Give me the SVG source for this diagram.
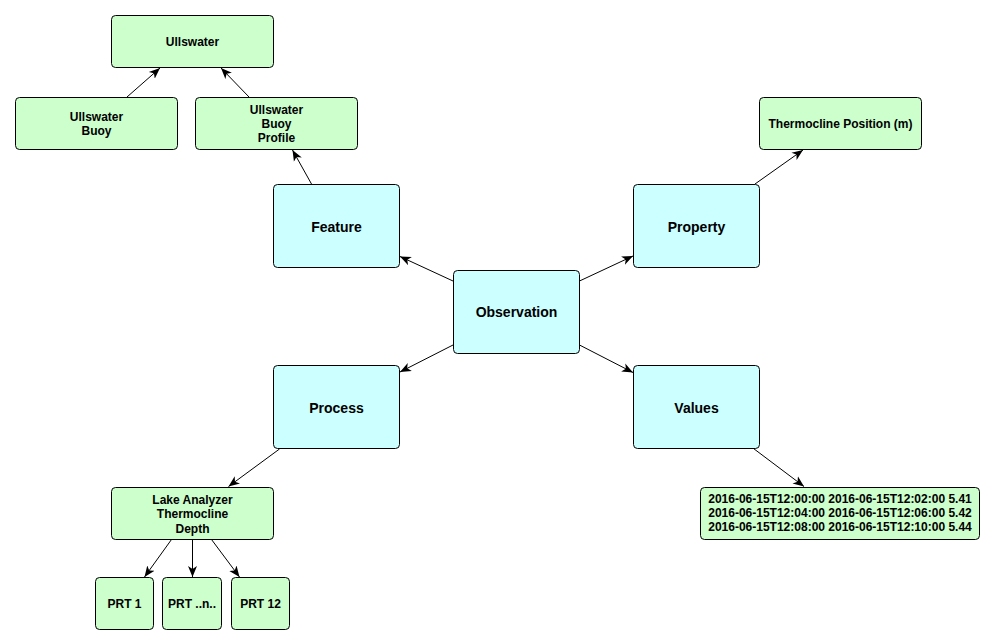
<svg xmlns="http://www.w3.org/2000/svg" width="995" height="644" viewBox="0 0 995 644">
<defs>
<marker id="arr" markerUnits="userSpaceOnUse" markerWidth="12" markerHeight="10" viewBox="0 0 12 10" refX="11" refY="5" orient="auto">
<path d="M0,0.5 L11,5 L0,9.5 L3,5 Z" fill="#000"/>
</marker>
<style>
.g{fill:#ccffcc;stroke:#000;stroke-width:1}
.c{fill:#ccffff;stroke:#000;stroke-width:1}
.t{font-family:"Liberation Sans",Arial,sans-serif;font-weight:bold;font-size:12px;fill:#000;text-anchor:middle}
.T{font-family:"Liberation Sans",Arial,sans-serif;font-weight:bold;font-size:14px;fill:#000;text-anchor:middle}
.e{fill:none;stroke:#000;stroke-width:1;marker-end:url(#arr)}
</style>
</defs>
<rect width="995" height="644" fill="#fff"/>
<g id="connectors">
<line class="e" x1="127" y1="97" x2="160" y2="68"/>
<line class="e" x1="249" y1="97" x2="221" y2="68"/>
<line class="e" x1="311.5" y1="184" x2="292.5" y2="150"/>
<line class="e" x1="453" y1="281" x2="400" y2="256.5"/>
<line class="e" x1="579.5" y1="281" x2="633" y2="256"/>
<line class="e" x1="755" y1="184" x2="803" y2="150"/>
<line class="e" x1="453" y1="345" x2="400" y2="372"/>
<line class="e" x1="579.5" y1="345" x2="633" y2="372.5"/>
<line class="e" x1="279.5" y1="449" x2="228.5" y2="486.5"/>
<line class="e" x1="753.5" y1="448.5" x2="804" y2="486.5"/>
<line class="e" x1="171.5" y1="539.5" x2="144.5" y2="577"/>
<line class="e" x1="192.5" y1="539.5" x2="192.5" y2="577"/>
<line class="e" x1="211.5" y1="539.5" x2="239.5" y2="577"/>
</g>
<g id="ullswater"><rect class="g" x="111.5" y="15.5" width="162" height="52" rx="4"/><text class="t" x="192.5" y="46">Ullswater</text></g>
<g id="ullswater-buoy"><rect class="g" x="15.5" y="97.5" width="162" height="52" rx="4"/><text class="t" x="96.5" y="120.5">Ullswater</text><text class="t" x="96.5" y="134.5">Buoy</text></g>
<g id="ullswater-buoy-profile"><rect class="g" x="195.5" y="97.5" width="162" height="52" rx="4"/><text class="t" x="276.5" y="113.5">Ullswater</text><text class="t" x="276.5" y="127.5">Buoy</text><text class="t" x="276.5" y="141.5">Profile</text></g>
<g id="feature"><rect class="c" x="273.5" y="184.5" width="126" height="83" rx="4"/><text class="T" x="336.5" y="231.5">Feature</text></g>
<g id="thermocline-position"><rect class="g" x="759.5" y="97.5" width="162" height="52" rx="4"/><text class="t" x="840.5" y="128">Thermocline Position (m)</text></g>
<g id="property"><rect class="c" x="633.5" y="184.5" width="126" height="83" rx="4"/><text class="T" x="696.5" y="231.5">Property</text></g>
<g id="observation"><rect class="c" x="453.5" y="270.5" width="126" height="83" rx="4"/><text class="T" x="516.5" y="317">Observation</text></g>
<g id="process"><rect class="c" x="273.5" y="365.5" width="126" height="83" rx="4"/><text class="T" x="336.5" y="412.5">Process</text></g>
<g id="values"><rect class="c" x="633.5" y="365.5" width="126" height="83" rx="4"/><text class="T" x="696.5" y="412.5">Values</text></g>
<g id="lake-analyzer"><rect class="g" x="111.5" y="487.5" width="162" height="52" rx="4"/><text class="t" x="192.5" y="503.5">Lake Analyzer</text><text class="t" x="192.5" y="518">Thermocline</text><text class="t" x="192.5" y="532.5">Depth</text></g>
<g id="prt1"><rect class="g" x="95.5" y="577.5" width="58" height="52" rx="4"/><text class="t" x="124.5" y="608">PRT 1</text></g>
<g id="prtn"><rect class="g" x="162.5" y="577.5" width="59" height="52" rx="4"/><text class="t" x="192" y="608">PRT ..n..</text></g>
<g id="prt12"><rect class="g" x="231.5" y="577.5" width="58" height="52" rx="4"/><text class="t" x="260.5" y="608">PRT 12</text></g>
<g id="values-data"><rect class="g" x="700.5" y="487.5" width="279" height="52" rx="4"/><text class="t" x="840" y="502.5">2016-06-15T12:00:00 2016-06-15T12:02:00 5.41</text><text class="t" x="840" y="516.5">2016-06-15T12:04:00 2016-06-15T12:06:00 5.42</text><text class="t" x="840" y="530.5">2016-06-15T12:08:00 2016-06-15T12:10:00 5.44</text></g>
</svg>
